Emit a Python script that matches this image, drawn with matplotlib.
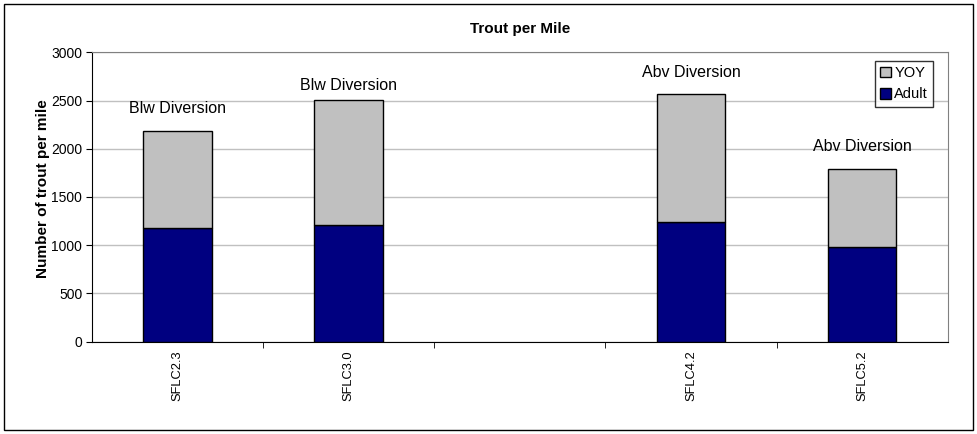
import matplotlib.pyplot as plt
import matplotlib.patches as mpatches
import numpy as np

plt.rcParams['font.family'] = ['Liberation Sans', 'DejaVu Sans']

sites = ['SFLC2.3', 'SFLC3.0', '', 'SFLC4.2', 'SFLC5.2']
adult = [1175, 1210, np.nan, 1240, 985]
yoy = [1010, 1300, np.nan, 1330, 810]
site_notes = ['Blw Diversion', 'Blw Diversion', '', 'Abv Diversion', 'Abv Diversion']

navy = '#000080'
silver = '#c0c0c0'

fig = plt.figure(figsize=(9.78, 4.34), dpi=100)
ax = fig.add_axes([0.094, 0.2127, 0.875, 0.6668])

x = np.arange(len(sites))
ax.bar(x, adult, width=0.4, color=navy, edgecolor='black', linewidth=1, zorder=3, label='Adult')
ax.bar(x, yoy, bottom=adult, width=0.4, color=silver, edgecolor='black', linewidth=1, zorder=3, label='YOY')

# site labels above bars
offsets = [16, 10, 0, 15, 16]
for i, note in enumerate(site_notes):
    if note:
        ax.annotate(note, (x[i], adult[i] + yoy[i]), xytext=(0, offsets[i]),
                    textcoords='offset points', ha='center', va='center', fontsize=11.5)

ax.set_xlim(-0.5, len(sites) - 0.5)
ax.set_ylim(0, 3000)
ax.set_yticks(np.arange(0, 3001, 500))
ax.yaxis.grid(True, color='#c0c0c0', linewidth=1, zorder=0)
ax.set_axisbelow(True)

ax.set_xticks(x)
ax.set_xticklabels(sites, rotation=90, fontsize=9.3)
ax.tick_params(axis='x', which='major', length=0, pad=6)
ax.set_xticks(np.arange(0.5, len(sites) - 0.5), minor=True)
ax.tick_params(axis='x', which='minor', length=4, direction='out', color='black')
ax.tick_params(axis='y', labelsize=10, length=4, direction='out', pad=3)

for side in ['top', 'right']:
    ax.spines[side].set_color('#808080')
for side in ['left', 'bottom']:
    ax.spines[side].set_color('black')

ax.set_ylabel('Number of trout per mile', fontsize=11, fontweight='bold')
ax.yaxis.set_label_coords(-0.049, 0.53)
ax.set_title('Trout per Mile', fontsize=11, fontweight='bold', pad=14)

h_yoy = mpatches.Patch(facecolor=silver, edgecolor='black', label='YOY')
h_adult = mpatches.Patch(facecolor=navy, edgecolor='black', label='Adult')
leg = ax.legend(handles=[h_yoy, h_adult], loc='upper right', bbox_to_anchor=(0.988, 0.985),
                fontsize=10.5, frameon=True, fancybox=False, edgecolor='black',
                handlelength=0.75, handleheight=0.75, handletextpad=0.2,
                borderpad=0.35, labelspacing=0.5, borderaxespad=0.3)
leg.get_frame().set_linewidth(1)

# outer chart border
fig.patches.append(mpatches.Rectangle((0.004, 0.01), 0.991, 0.98, transform=fig.transFigure,
                                      fill=False, edgecolor='black', linewidth=1))

fig.savefig('out.png', dpi=100, facecolor='white')
